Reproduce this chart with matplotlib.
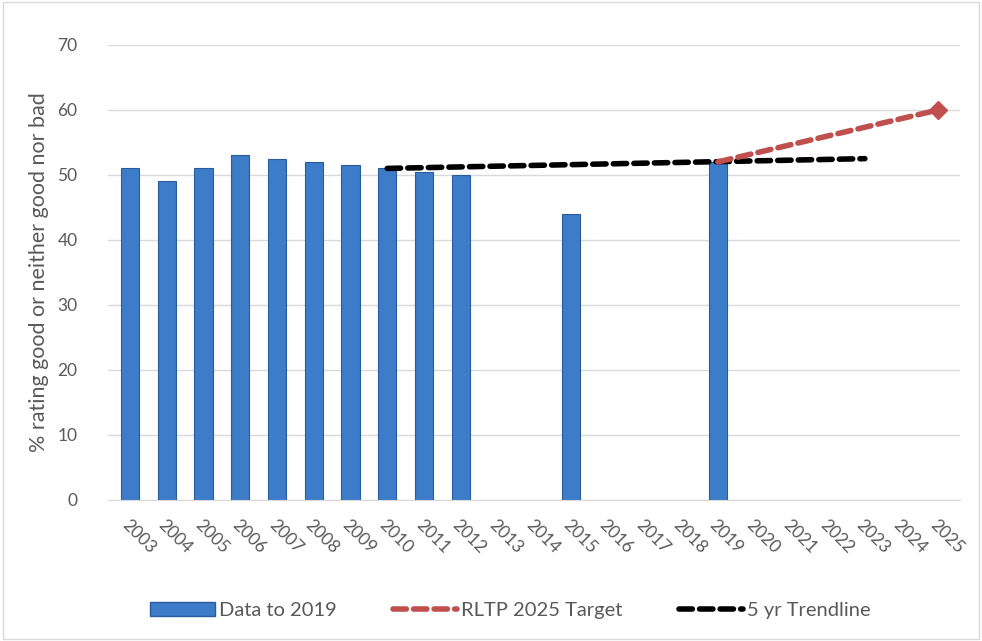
import numpy as np
import matplotlib.pyplot as plt
from matplotlib.patches import Rectangle
from matplotlib.lines import Line2D

plt.rcParams['font.family'] = ['Lato', 'DejaVu Sans']

years = [str(y) for y in range(2003, 2026)]
bar_years = ["2003", "2004", "2005", "2006", "2007", "2008", "2009", "2010",
             "2011", "2012", "2015", "2019"]
bar_vals = [51, 49, 51, 53, 52.5, 52, 51.5, 51, 50.5, 50, 44, 52]
target_years = ["2019", "2025"]
target_vals = [52, 60]
trend_years = ["2010", "2023"]
trend_vals = [51, 52.5]

pos = {y: i for i, y in enumerate(years)}
dash = (0, (2.4, 1.3))

fig = plt.figure(figsize=(9.82, 6.41), dpi=100)
ax = fig.add_axes([0.11, 0.22, 0.868, 0.71])

# bars
bx = [pos[y] for y in bar_years]
ax.bar(bx, bar_vals, width=0.5, color="#3d7cc9", edgecolor="#2a5b9a",
       linewidth=0.8, zorder=2)

# trendline
tx = [pos[y] for y in trend_years]
ax.plot(tx, trend_vals, color="black", lw=4, ls=dash,
        dash_capstyle="round", zorder=3)

# target
rx = [pos[y] for y in target_years]
ax.plot(rx, target_vals, color="#c0504d", lw=4, ls=dash,
        dash_capstyle="round", zorder=4)
ax.plot(rx[-1:], target_vals[-1:], marker="D", color="#c0504d", ms=9,
        ls="none", zorder=5)

ax.set_xlim(-0.6, len(years) - 0.4)
ax.set_ylim(0, 70)
ax.set_yticks(range(0, 71, 10))
ax.set_xticks(range(len(years)))
ax.set_xticklabels(years, rotation=-45, ha="left", rotation_mode="anchor")
ax.yaxis.grid(True, color="#d9d9d9", lw=1)
ax.set_axisbelow(True)
for s in ["top", "right", "left"]:
    ax.spines[s].set_visible(False)
ax.spines["bottom"].set_color("#d9d9d9")
ax.tick_params(axis="both", length=0, colors="#595959", labelsize=12.5)
ax.tick_params(axis="x", pad=12)
ax.tick_params(axis="y", pad=22)
ax.set_ylabel("% rating good or neither good nor bad", fontsize=15.5,
              color="#595959", labelpad=6)

handles = [Rectangle((0, 0), 1, 1, facecolor="#3d7cc9", edgecolor="#2a5b9a"),
           Line2D([], [], color="#c0504d", lw=4, ls=dash, dash_capstyle="round"),
           Line2D([], [], color="black", lw=4, ls=dash, dash_capstyle="round")]
fig.legend(handles, ["Data to 2019", "RLTP 2025 Target", "5 yr Trendline"],
           loc="center", bbox_to_anchor=(0.52, 0.048), ncol=3, frameon=False,
           fontsize=14.5, labelcolor="#595959", handlelength=3.2,
           handletextpad=0.2, columnspacing=2.8)

fig.patches.append(Rectangle((0.003, 0.003), 0.994, 0.994, transform=fig.transFigure,
                             fill=False, edgecolor="#d9d9d9", lw=1))
fig.savefig("out.png", dpi=100)
